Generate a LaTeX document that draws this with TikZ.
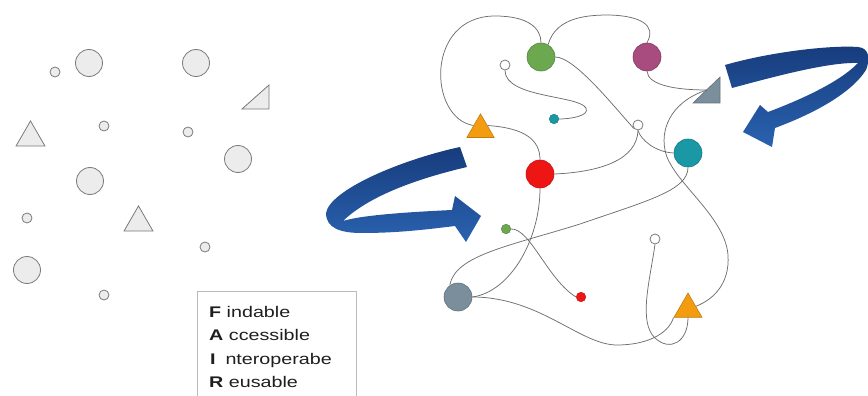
\documentclass[tikz,border=0pt]{standalone}
\usepackage{fontspec}
\setmainfont{Liberation Sans}
\usepackage{graphicx}
\usetikzlibrary{shapes.geometric}
\definecolor{lgfill}{HTML}{ECECEC}
\definecolor{lgline}{HTML}{7A7A7A}
\definecolor{curvecol}{HTML}{6E6E6E}
\definecolor{cgreen}{HTML}{6BA84F}
\definecolor{cmag}{HTML}{A84B7E}
\definecolor{cslate}{HTML}{7A8E9C}
\definecolor{corange}{HTML}{F39C12}
\definecolor{cred}{HTML}{EE1515}
\definecolor{cteal}{HTML}{1A98A6}
\definecolor{bdark}{HTML}{173C7C}
\definecolor{blight}{HTML}{2A62B0}
\definecolor{boxline}{HTML}{BBBBBB}
\definecolor{txt}{HTML}{1E1E1E}
\begin{document}
\begin{tikzpicture}[x=1pt,y=-1pt,
  gshape/.style={fill=lgfill,draw=lgline,line width=0.8pt},
  bigc/.style={circle,gshape,minimum size=27pt,inner sep=0pt},
  smallc/.style={circle,gshape,minimum size=10pt,inner sep=0pt},
  gtri/.style={regular polygon,regular polygon sides=3,gshape,minimum size=33.5pt,inner sep=0pt},
  colc/.style={circle,minimum size=28pt,inner sep=0pt,line width=0.6pt},
  dotc/.style={circle,minimum size=9.5pt,inner sep=0pt,line width=0.5pt},
  whc/.style={circle,fill=white,draw=lgline,line width=0.8pt,minimum size=10pt,inner sep=0pt},
  otri/.style={regular polygon,regular polygon sides=3,fill=corange,draw=corange!80!black,line width=0.6pt,minimum size=31.5pt,inner sep=0pt},
  link/.style={draw=curvecol,line width=0.75pt},
  fairtext/.style={anchor=base west,inner sep=0pt,text=txt,font=\fontsize{15.4}{18}\selectfont}
]
\useasboundingbox (0,0) rectangle (868,396);

% ---- left scattered shapes ----
\node[smallc] (s1) at (55,72) {};
\node[bigc] (b1) at (89,63) {};
\node[bigc] (b2) at (196,63) {};
\coordinate (rt1) at (269,109);
\filldraw[gshape] (242,109) -- (269,85) -- (rt1) -- cycle;
\node[gtri] (t1) at (30.5,137.7) {};
\node[smallc] (s2) at (104,126) {};
\node[smallc] (s3) at (188,132) {};
\node[bigc] (b3) at (238,159) {};
\node[bigc] (b4) at (90,181) {};
\node[smallc] (s4) at (27,218) {};
\node[gtri] (t2) at (138.5,222.7) {};
\node[smallc] (s5) at (205,247) {};
\node[bigc] (b5) at (27,270) {};
\node[smallc] (s6) at (104,295) {};

% ---- FAIR box ----
\draw[boxline,line width=0.8pt] (197,396) -- (197,291) -- (356,291) -- (356,396);
\node[fairtext] (lf) at (209,317) {\scalebox{1.28}[1]{\textbf{F} indable}};
\node[fairtext] (la) at (209,340.5) {\scalebox{1.28}[1]{\textbf{A} ccessible}};
\node[fairtext] (li) at (210,364) {\scalebox{1.28}[1]{\textbf{I}\hspace{0.5em}nteroperabe}};
\node[fairtext] (lr) at (209,387) {\scalebox{1.28}[1]{\textbf{R} eusable}};

% ---- blue arrows ----
\shade[top color=bdark,bottom color=blight]
  (460,147) .. controls (400,160) and (330,190) .. (326,213)
  .. controls (326,228) and (340,233) .. (362,233)
  .. controls (400,233) and (430,229) .. (455,226)
  -- (466,242) -- (481,216) -- (455,196) -- (452,210)
  .. controls (410,212) and (362,215) .. (343,221)
  .. controls (370,195) and (420,178) .. (467,167)
  -- cycle;
\shade[top color=bdark,bottom color=blight]
  (725,65) .. controls (770,52) and (830,45) .. (858,47)
  .. controls (870,48) and (870,60) .. (866,70)
  .. controls (850,95) and (810,115) .. (775,128)
  -- (772,147) -- (743,132) -- (760,105) -- (768,112)
  .. controls (800,100) and (840,82) .. (858,63)
  .. controls (830,62) and (780,75) .. (732,88)
  -- cycle;

% ---- network nodes ----
\node[colc,fill=cgreen,draw=cgreen!80!black] (green) at (541,57) {};
\node[colc,fill=cmag,draw=cmag!80!black] (mag) at (647,57) {};
\node[colc,fill=cred,draw=cred!85!black] (red) at (540,174) {};
\node[colc,fill=cteal,draw=cteal!80!black] (teal) at (688,153) {};
\node[colc,fill=cslate,draw=cslate!80!black] (gc) at (458,297) {};
\node[whc] (w1) at (505,65) {};
\node[whc] (w2) at (638,125) {};
\node[whc] (w3) at (655,239) {};
\node[dotc,fill=cteal,draw=cteal!80!black] (tdot) at (554,119) {};
\node[dotc,fill=cgreen,draw=cgreen!80!black] (gdot) at (506,229) {};
\node[dotc,fill=cred,draw=cred!85!black] (rdot) at (581,297) {};
\node[otri] (or1) at (480.5,129.6) {};
\node[otri,minimum size=32.3pt] (or2) at (688,309.2) {};
\coordinate (gt1) at (707,90);
\filldraw[fill=cslate,draw=cslate!80!black,line width=0.6pt] (693,103) -- (720,77) -- (720,103) -- cycle;

% ---- connectors ----
\draw[link] (or1.150) .. controls (428,118) and (425,16) .. (495,16)
  .. controls (528,16) and (541,28) .. (green.north);
\draw[link] (green.60) .. controls (556,16) and (590,15) .. (610,15)
  .. controls (640,16) and (657,25) .. (mag.north);
\draw[link] (w1.south) .. controls (505,98) and (578,95) .. (586,108)
  .. controls (590,116) and (570,119) .. (tdot.east);
\draw[link] (green.east) .. controls (575,57) and (615,108) .. (w2.220);
\draw[link] (w2.south) .. controls (641,140) and (655,152) .. (teal.west);
\draw[link] (red.east) .. controls (600,172) and (637,160) .. (w2.south);
\draw[link] (or1.30) .. controls (525,128) and (540,140) .. (red.north);
\draw[link] (mag.south) .. controls (648,85) and (675,90) .. (gt1);
\draw[link] (gt1) .. controls (675,100) and (660,125) .. (665,150)
  .. controls (670,180) and (725,215) .. (728,255)
  .. controls (730,285) and (712,300) .. (or2.20);
\draw[link] (teal.south) .. controls (688,190) and (650,200) .. (580,224)
  .. controls (510,246) and (455,255) .. (gc.125);
\draw[link] (red.south) .. controls (540,240) and (510,292) .. (gc.east);
\draw[link] (gdot.east) .. controls (530,228) and (548,280) .. (rdot.west);
\draw[link] (gc.east) .. controls (540,297) and (580,345) .. (617,345)
  .. controls (645,345) and (668,335) .. (or2.210);
\draw[link] (w3.south) .. controls (650,280) and (638,322) .. (655,338)
  .. controls (670,352) and (688,342) .. (or2.south);
\end{tikzpicture}
\end{document}
